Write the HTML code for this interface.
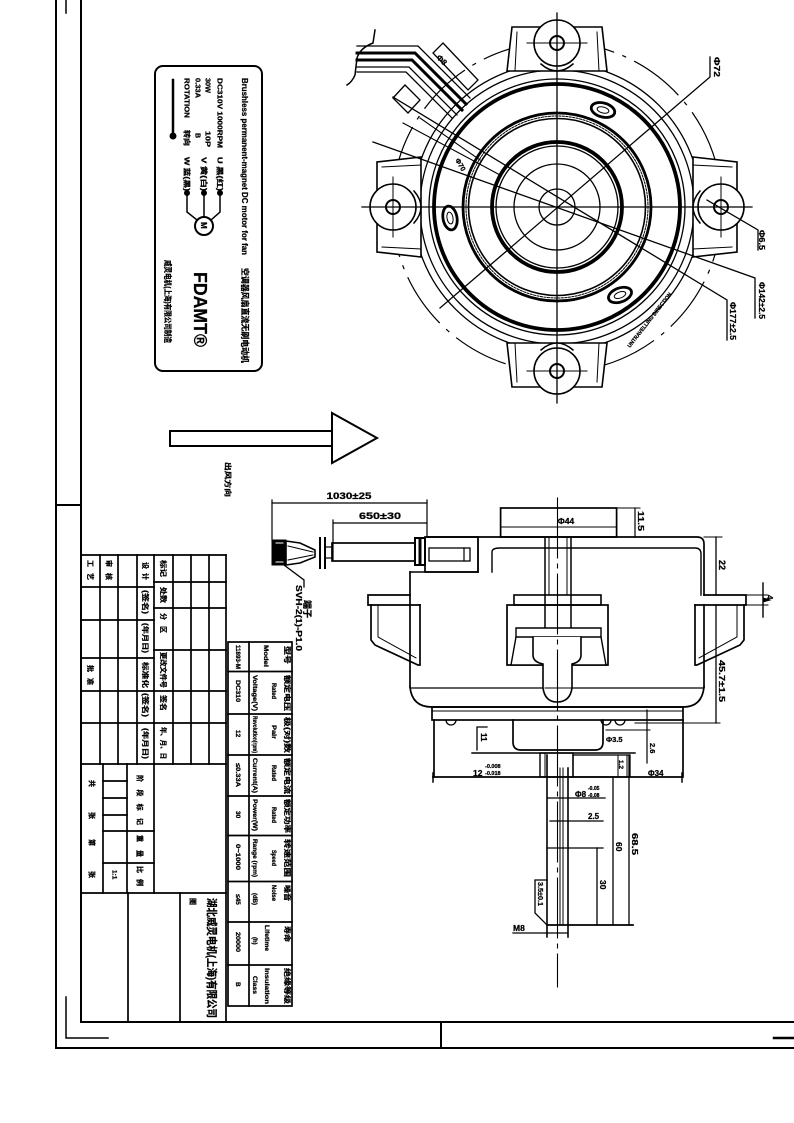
<!DOCTYPE html>
<html><head><meta charset="utf-8"><style>
html,body{margin:0;padding:0;background:#fff;}
svg{display:block;}
text{font-family:"Liberation Sans","Noto Sans CJK SC",sans-serif;font-weight:bold;fill:#000;stroke:#000;stroke-width:0.25;}
</style></head><body>
<svg width="794" height="1123" viewBox="0 0 794 1123" xmlns="http://www.w3.org/2000/svg">
<rect width="794" height="1123" fill="#fff" stroke="none"/>
<g stroke="#000" fill="none" stroke-linecap="square">
<!-- frame -->
<line x1="56" y1="0" x2="56" y2="1048" stroke-width="2"/>
<line x1="81" y1="0" x2="81" y2="1022" stroke-width="2"/>
<line x1="56" y1="505" x2="81" y2="505" stroke-width="2"/>
<line x1="66" y1="0" x2="66" y2="13" stroke-width="1.5"/>
<line x1="81" y1="1022" x2="794" y2="1022" stroke-width="2"/>
<line x1="56" y1="1048" x2="794" y2="1048" stroke-width="2"/>
<line x1="441" y1="1022" x2="441" y2="1048" stroke-width="2"/>
<line x1="774" y1="1038" x2="794" y2="1038" stroke-width="2.5"/>
<polyline points="66,997 66,1038 108,1038" stroke-width="1.5"/>

<!-- title block -->
<g stroke-width="1.7">
<line x1="81" y1="555" x2="226" y2="555"/>
<line x1="226" y1="555" x2="226" y2="1022"/>
<line x1="100" y1="555" x2="100" y2="764"/>
<line x1="118" y1="555" x2="118" y2="764"/>
<line x1="137" y1="555" x2="137" y2="764"/>
<line x1="154" y1="555" x2="154" y2="764"/>
<line x1="173" y1="555" x2="173" y2="764"/>
<line x1="191" y1="555" x2="191" y2="764"/>
<line x1="209" y1="555" x2="209" y2="764"/>
<line x1="81" y1="587" x2="154" y2="587"/>
<line x1="81" y1="620" x2="154" y2="620"/>
<line x1="81" y1="658" x2="154" y2="658"/>
<line x1="81" y1="691" x2="226" y2="691"/>
<line x1="81" y1="723" x2="154" y2="723"/>
<line x1="154" y1="582" x2="226" y2="582"/>
<line x1="154" y1="608" x2="226" y2="608"/>
<line x1="154" y1="650" x2="226" y2="650"/>
<line x1="154" y1="723" x2="226" y2="723"/>
<line x1="81" y1="764" x2="226" y2="764"/>
<line x1="103" y1="764" x2="103" y2="893"/>
<line x1="127" y1="764" x2="127" y2="893"/>
<line x1="154" y1="764" x2="154" y2="893"/>
<line x1="103" y1="781" x2="127" y2="781"/>
<line x1="103" y1="798" x2="127" y2="798"/>
<line x1="103" y1="815" x2="127" y2="815"/>
<line x1="103" y1="831" x2="154" y2="831"/>
<line x1="103" y1="863" x2="154" y2="863"/>
<line x1="81" y1="893" x2="226" y2="893"/>
<line x1="128" y1="893" x2="128" y2="1022"/>
<line x1="180" y1="893" x2="180" y2="1022"/>
</g>

<!-- spec table -->
<g stroke-width="1.7">
<rect x="228" y="642" width="64" height="364"/>
<line x1="249" y1="642" x2="249" y2="1006"/>
<line x1="228" y1="671.5" x2="292" y2="671.5"/>
<line x1="228" y1="714" x2="292" y2="714"/>
<line x1="228" y1="755" x2="292" y2="755"/>
<line x1="228" y1="796" x2="292" y2="796"/>
<line x1="228" y1="835.5" x2="292" y2="835.5"/>
<line x1="228" y1="881.5" x2="292" y2="881.5"/>
<line x1="228" y1="922" x2="292" y2="922"/>
<line x1="228" y1="965" x2="292" y2="965"/>
</g>

<!-- label box -->
<rect x="155" y="66" width="107" height="305" rx="8" stroke-width="2"/>
<line x1="173" y1="80" x2="173" y2="135" stroke-width="2.5"/>
<circle cx="173" cy="136" r="3" fill="#000"/>
<circle cx="187" cy="193" r="2.5" fill="#000"/>
<circle cx="204" cy="193" r="2.5" fill="#000"/>
<circle cx="220" cy="193" r="2.5" fill="#000"/>
<polyline points="187,193 187,212 197,220" stroke-width="1.5"/>
<line x1="204" y1="193" x2="204" y2="217" stroke-width="1.5"/>
<polyline points="220,193 220,212 211,220" stroke-width="1.5"/>
<circle cx="204" cy="226" r="9" stroke-width="2"/>

<!-- big arrow -->
<rect x="170" y="431" width="162" height="15" stroke-width="2"/>
<polygon points="332,413 377,438 332,463" stroke-width="2" fill="#fff"/>

<!-- ============ ROUND VIEW ============ -->
<circle cx="557" cy="207" r="165" stroke-width="1.2" stroke-dasharray="55 10 3 10"/>
<circle cx="557" cy="207" r="144" stroke-width="1.3"/>
<circle cx="557" cy="207" r="137" stroke-width="1.3"/>
<g>
<polygon points="507,71 512,27 602,27 607,71" fill="#fff" stroke-width="1.6"/>
<line x1="517" y1="32" x2="515" y2="71" stroke-width="1"/>
<line x1="597" y1="32" x2="599" y2="71" stroke-width="1"/>
<path d="M541,64 Q557,78 573,64" stroke-width="1.5" fill="#fff"/>
<circle cx="557" cy="43" r="23" fill="#fff" stroke-width="1.6"/>
<circle cx="557" cy="43" r="7" stroke-width="2"/>
<line x1="527" y1="43" x2="587" y2="43" stroke-width="1"/>
</g>
<g transform="rotate(90 557 207)">
<polygon points="507,71 512,27 602,27 607,71" fill="#fff" stroke-width="1.6"/>
<line x1="517" y1="32" x2="515" y2="71" stroke-width="1"/>
<line x1="597" y1="32" x2="599" y2="71" stroke-width="1"/>
<path d="M541,64 Q557,78 573,64" stroke-width="1.5" fill="#fff"/>
<circle cx="557" cy="43" r="23" fill="#fff" stroke-width="1.6"/>
<circle cx="557" cy="43" r="7" stroke-width="2"/>
<line x1="527" y1="43" x2="587" y2="43" stroke-width="1"/>
</g>
<g transform="rotate(180 557 207)">
<polygon points="507,71 512,27 602,27 607,71" fill="#fff" stroke-width="1.6"/>
<line x1="517" y1="32" x2="515" y2="71" stroke-width="1"/>
<line x1="597" y1="32" x2="599" y2="71" stroke-width="1"/>
<path d="M541,64 Q557,78 573,64" stroke-width="1.5" fill="#fff"/>
<circle cx="557" cy="43" r="23" fill="#fff" stroke-width="1.6"/>
<circle cx="557" cy="43" r="7" stroke-width="2"/>
<line x1="527" y1="43" x2="587" y2="43" stroke-width="1"/>
</g>
<g transform="rotate(270 557 207)">
<polygon points="507,71 512,27 602,27 607,71" fill="#fff" stroke-width="1.6"/>
<line x1="517" y1="32" x2="515" y2="71" stroke-width="1"/>
<line x1="597" y1="32" x2="599" y2="71" stroke-width="1"/>
<path d="M541,64 Q557,78 573,64" stroke-width="1.5" fill="#fff"/>
<circle cx="557" cy="43" r="23" fill="#fff" stroke-width="1.6"/>
<circle cx="557" cy="43" r="7" stroke-width="2"/>
<line x1="527" y1="43" x2="587" y2="43" stroke-width="1"/>
</g>
<circle cx="557" cy="207" r="128" stroke-width="1.3"/>
<circle cx="557" cy="207" r="123" stroke-width="3.8"/>
<circle cx="557" cy="207" r="94" stroke-width="2.8"/>
<circle cx="557" cy="207" r="91" stroke-width="1" stroke-dasharray="2 1.5"/>
<circle cx="557" cy="207" r="88.5" stroke-width="1.6"/>
<circle cx="557" cy="207" r="65" stroke-width="3.8"/>
<circle cx="557" cy="207" r="61" stroke-width="1.3"/>
<circle cx="557" cy="207" r="43" stroke-width="1.3"/>
<circle cx="557" cy="207" r="18" stroke-width="1.3"/>
<ellipse cx="603" cy="110" rx="12" ry="7" transform="rotate(15 603 110)" stroke-width="2.8"/>
<ellipse cx="603" cy="110" rx="6" ry="3" transform="rotate(15 603 110)" stroke-width="1"/>
<ellipse cx="450" cy="218" rx="12" ry="7" transform="rotate(80 450 218)" stroke-width="2.8"/>
<ellipse cx="450" cy="218" rx="6" ry="3" transform="rotate(80 450 218)" stroke-width="1"/>
<ellipse cx="620" cy="295" rx="12" ry="7" transform="rotate(-20 620 295)" stroke-width="2.8"/>
<ellipse cx="620" cy="295" rx="6" ry="3" transform="rotate(-20 620 295)" stroke-width="1"/>
<line x1="557" y1="13" x2="557" y2="403" stroke-width="1.3"/>
<line x1="362" y1="207" x2="752" y2="207" stroke-width="1.3"/>
<polyline points="440,308 710,77 710,57" stroke-width="1.3"/>
<polyline points="373,142 755,278 755,318" stroke-width="1.3"/>
<polyline points="393,97 727,300 727,340" stroke-width="1.3"/>
<polyline points="707,200 758,230 758,250" stroke-width="1.3"/>
<line x1="403" y1="123" x2="500" y2="175" stroke-width="1.1"/>
<line x1="420" y1="118" x2="480" y2="160" stroke-width="1.1"/>
<path d="M375,30 L373,43 Q360,48 357,58 L355,75 Q352,82 347,85" stroke-width="1.5"/>
<polyline points="357,46 418,46 470,98" stroke-width="1.3"/>
<polyline points="357,53 415,53 466,104" stroke-width="3"/>
<polyline points="357,60 412,60 462,110" stroke-width="3"/>
<polyline points="357,67 409,67 457,115" stroke-width="1.3"/>
<polyline points="357,72 406,72 452,118" stroke-width="1.3"/>
<polygon points="443,43 478,80 468,90 433,53" stroke-width="1.3"/>
<polygon points="393,98 405,85 420,100 408,113" stroke-width="1.3"/>

<!-- ============ SIDE VIEW ============ -->
<g stroke-width="1.2">
<line x1="272" y1="500" x2="272" y2="540"/>
<line x1="427" y1="500" x2="427" y2="537"/>
<line x1="272" y1="503" x2="427" y2="503"/>
<line x1="333" y1="520" x2="333" y2="560"/>
<line x1="333" y1="523" x2="427" y2="523"/>
</g>
<rect x="272" y="540" width="14" height="25" fill="#000" stroke-width="1"/>
<line x1="276" y1="543" x2="283" y2="543" stroke="#fff" stroke-width="1"/>
<line x1="276" y1="562" x2="283" y2="562" stroke="#fff" stroke-width="1"/>
<polygon points="286,541 300,543 315,550 315,557 300,563 286,565" stroke-width="1.6"/>
<line x1="288" y1="546" x2="313" y2="552" stroke-width="1"/>
<line x1="288" y1="560" x2="313" y2="555" stroke-width="1"/>
<line x1="320" y1="538" x2="320" y2="568" stroke-width="2"/>
<line x1="325" y1="538" x2="325" y2="568" stroke-width="2"/>
<rect x="325" y="547" width="7" height="11" stroke-width="1.2"/>
<rect x="332" y="543" width="83" height="18" stroke-width="1.7"/>
<rect x="415" y="538" width="10" height="27" stroke-width="2"/>
<line x1="420" y1="539" x2="420" y2="564" stroke-width="3"/>
<rect x="425" y="537" width="53" height="35" stroke-width="1.7"/>
<rect x="429" y="548" width="41" height="13" stroke-width="1.3"/>
<line x1="464" y1="548" x2="464" y2="561" stroke-width="1.2"/>
<polyline points="284,565 304,580 304,587" stroke-width="1.3"/>
<rect x="500.6" y="508" width="116" height="29" stroke-width="1.7"/>
<line x1="500.6" y1="527" x2="616.6" y2="527" stroke-width="1"/>
<line x1="617" y1="508" x2="640" y2="508" stroke-width="1"/>
<line x1="635" y1="508" x2="635" y2="537" stroke-width="1.2"/>
<path d="M427,537 L697,537 Q704,537 704,544 L704,595" stroke-width="1.7"/>
<path d="M492,572 L492,552 Q492,548 500,548 L695,548 Q701,548 701,554 L701,595" stroke-width="1.4"/>
<line x1="478" y1="540" x2="478" y2="572" stroke-width="1.4"/>
<line x1="410" y1="572" x2="478" y2="572" stroke-width="1.4"/>
<line x1="545" y1="538" x2="545" y2="627" stroke-width="1.5"/>
<line x1="571" y1="538" x2="571" y2="627" stroke-width="1.5"/>
<line x1="549" y1="538" x2="549" y2="595" stroke-width="1"/>
<line x1="567" y1="538" x2="567" y2="595" stroke-width="1"/>
<polyline points="410,595 368,595 368,605 420,605" stroke-width="1.7"/>
<polyline points="704,595 746,595 746,605 695,605" stroke-width="1.7"/>
<polyline points="371,605 371,640 375,645 418,665 420,665 420,605" stroke-width="1.7"/>
<polyline points="378,605 378,637 416,658" stroke-width="1"/>
<polyline points="744,605 744,640 740,645 697,665 695,665 695,605" stroke-width="1.7"/>
<polyline points="737,605 737,637 699,658" stroke-width="1"/>
<line x1="410" y1="572" x2="410" y2="687" stroke-width="1.7"/>
<line x1="704" y1="605" x2="704" y2="687" stroke-width="1.7"/>
<line x1="410" y1="688" x2="704" y2="688" stroke-width="1.3"/>
<path d="M410,687 Q412,707 432,707 L683,707 Q702,707 704,687" stroke-width="1.7"/>
<rect x="514" y="595" width="87" height="10" stroke-width="1.6"/>
<rect x="507" y="605" width="101" height="60" stroke-width="1.7"/>
<polygon points="516,628 601,628 601,637 606,665 511,665 516,637" stroke-width="1.4" fill="#fff"/>
<line x1="516" y1="637" x2="601" y2="637" stroke-width="1.4"/>
<path d="M533,637 L533,655 Q533,662 543,664 L543,688 Q545,702 557,702 Q570,702 572,688 L572,664 Q581,662 581,655 L581,637" stroke-width="1.6" fill="#fff"/>
<line x1="545" y1="688" x2="571" y2="688" stroke-width="1"/>
<rect x="432" y="707" width="251" height="13" stroke-width="1.7"/>
<line x1="432" y1="711" x2="683" y2="711" stroke-width="1"/>
<line x1="434" y1="720" x2="434" y2="777" stroke-width="1.7"/>
<line x1="683" y1="720" x2="683" y2="777" stroke-width="1.7"/>
<path d="M446,720 A5,5 0 0 0 456,720" stroke-width="1.3"/>
<path d="M601,720 A5,5 0 0 0 611,720" stroke-width="1.3"/>
<path d="M615,720 A5,5 0 0 0 625,720" stroke-width="1.3"/>
<path d="M513,720 L513,742 Q513,750 521,750 L595,750 Q603,750 603,742 L603,720" stroke-width="1.7"/>
<line x1="472" y1="753" x2="635" y2="753" stroke-width="1.4"/>
<polyline points="487,727 477,727 477,750" stroke-width="1.3"/>
<line x1="606" y1="730" x2="650" y2="730" stroke-width="1"/>
<line x1="647" y1="710" x2="647" y2="763" stroke-width="1.2"/>
<rect x="540" y="753" width="33" height="24" stroke-width="1.4"/>
<line x1="545" y1="753" x2="545" y2="777" stroke-width="1"/>
<rect x="573" y="755" width="57" height="22" stroke-width="1.3"/>
<line x1="618" y1="755" x2="618" y2="777" stroke-width="1"/>
<line x1="627" y1="755" x2="627" y2="777" stroke-width="1"/>
<line x1="433" y1="777" x2="682" y2="777" stroke-width="1.8"/>
<line x1="433" y1="773" x2="433" y2="782" stroke-width="1.5"/>
<line x1="682" y1="773" x2="682" y2="782" stroke-width="1.5"/>
<line x1="547" y1="755" x2="547" y2="937" stroke-width="1.6"/>
<line x1="568" y1="768" x2="568" y2="937" stroke-width="1.6"/>
<line x1="560" y1="768" x2="560" y2="925" stroke-width="1"/>
<line x1="563" y1="768" x2="563" y2="925" stroke-width="1"/>
<line x1="557.5" y1="498" x2="557.5" y2="987" stroke-width="1.1" stroke-dasharray="60 6 4 6"/>
<line x1="548" y1="798" x2="605" y2="798" stroke-width="1.3"/>
<line x1="550" y1="821" x2="603" y2="821" stroke-width="1.3"/>
<line x1="547" y1="848" x2="603" y2="848" stroke-width="1.3"/>
<line x1="547" y1="925" x2="633" y2="925" stroke-width="1.7"/>
<line x1="597" y1="848" x2="597" y2="925" stroke-width="1.3"/>
<line x1="613" y1="777" x2="613" y2="925" stroke-width="1.3"/>
<line x1="629" y1="755" x2="629" y2="925" stroke-width="1.3"/>
<polyline points="547,880 535,880 535,913 547,925" stroke-width="1.3"/>
<line x1="513" y1="933" x2="567" y2="933" stroke-width="1.3"/>
<line x1="704" y1="537" x2="722" y2="537" stroke-width="1"/>
<line x1="716" y1="537" x2="716" y2="595" stroke-width="1.3"/>
<line x1="716" y1="605" x2="716" y2="723" stroke-width="1.3"/>
<line x1="635" y1="723" x2="720" y2="723" stroke-width="1"/>
<line x1="746" y1="595" x2="768" y2="595" stroke-width="1"/>
<line x1="746" y1="605" x2="768" y2="605" stroke-width="1"/>
<line x1="763" y1="583" x2="763" y2="617" stroke-width="1.4"/>
<polygon points="763,598 770,600 763,602" fill="#000" stroke-width="1"/>
</g>

<!-- ============ TEXT ============ -->
<text transform="translate(242,78) rotate(90)" font-size="8.5" textLength="177" lengthAdjust="spacingAndGlyphs">Brushless permanent-magnet DC motor for fan</text>
<text transform="translate(242,268) rotate(90)" font-size="8.5" textLength="95" lengthAdjust="spacingAndGlyphs">空调器风扇直流无刷电动机</text>
<text transform="translate(217.5,78) rotate(90)" font-size="7" textLength="70" lengthAdjust="spacingAndGlyphs">DC310V 1000RPM</text>
<text transform="translate(217.5,157) rotate(90)" font-size="7" textLength="34" lengthAdjust="spacingAndGlyphs">U 黑(红)</text>
<text transform="translate(205.5,78) rotate(90)" font-size="7" textLength="15" lengthAdjust="spacingAndGlyphs">30W</text>
<text transform="translate(205.5,131) rotate(90)" font-size="7" textLength="16" lengthAdjust="spacingAndGlyphs">10P</text>
<text transform="translate(201.5,157) rotate(90)" font-size="7" textLength="34" lengthAdjust="spacingAndGlyphs">V 黄(白)</text>
<text transform="translate(195.5,78) rotate(90)" font-size="7" textLength="20" lengthAdjust="spacingAndGlyphs">0.33A</text>
<text transform="translate(195.5,133) rotate(90)" font-size="7">B</text>
<text transform="translate(184.5,78) rotate(90)" font-size="7" textLength="40" lengthAdjust="spacingAndGlyphs">ROTATION</text>
<text transform="translate(184.5,130) rotate(90)" font-size="7" textLength="16" lengthAdjust="spacingAndGlyphs">转向</text>
<text transform="translate(184.5,157) rotate(90)" font-size="7" textLength="34" lengthAdjust="spacingAndGlyphs">W 蓝(黑)</text>
<text transform="translate(201,222) rotate(90)" font-size="8">M</text>
<text transform="translate(194,272) rotate(90)" font-size="18" textLength="75" lengthAdjust="spacingAndGlyphs">FDAMT®</text>
<text transform="translate(165,260) rotate(90)" font-size="8" textLength="83" lengthAdjust="spacingAndGlyphs">威灵电机(上海)有限公司制造</text>
<text transform="translate(225.5,462) rotate(90)" font-size="7" textLength="35" lengthAdjust="spacingAndGlyphs">出风方向</text>

<text transform="translate(714,57) rotate(90)" font-size="8" textLength="20" lengthAdjust="spacingAndGlyphs">Φ72</text>
<text transform="translate(759,230) rotate(90)" font-size="8" textLength="20" lengthAdjust="spacingAndGlyphs">Φ6.5</text>
<text transform="translate(759,282) rotate(90)" font-size="8" textLength="37" lengthAdjust="spacingAndGlyphs">Φ142±2.5</text>
<text transform="translate(730,302) rotate(90)" font-size="8" textLength="38" lengthAdjust="spacingAndGlyphs">Φ177±2.5</text>
<text transform="translate(436,58) rotate(45)" font-size="8">Φ8</text>
<text transform="translate(455,160) rotate(60)" font-size="7">Φ70</text>
<text transform="translate(630,348) rotate(-52)" font-size="5.5" textLength="68" lengthAdjust="spacingAndGlyphs">UNTRAVELLING DIRECTION</text>

<text x="349" y="499" font-size="9" text-anchor="middle" textLength="45" lengthAdjust="spacingAndGlyphs">1030±25</text>
<text x="380" y="519" font-size="9" text-anchor="middle" textLength="42" lengthAdjust="spacingAndGlyphs">650±30</text>
<text x="566" y="524" font-size="8.5" text-anchor="middle">Φ44</text>
<text transform="translate(638,511) rotate(90)" font-size="8.5" textLength="20" lengthAdjust="spacingAndGlyphs">11.5</text>
<text transform="translate(719,560) rotate(90)" font-size="9">22</text>
<text transform="translate(719,660) rotate(90)" font-size="8.5" textLength="42" lengthAdjust="spacingAndGlyphs">45.7±1.5</text>
<text transform="translate(767,595) rotate(90)" font-size="8">4</text>
<text transform="translate(296,585) rotate(90)" font-size="8" textLength="66" lengthAdjust="spacingAndGlyphs">SVH-2(1)-P1.0</text>
<text transform="translate(304,600) rotate(90)" font-size="9" textLength="18" lengthAdjust="spacingAndGlyphs">端子</text>
<text transform="translate(481,733) rotate(90)" font-size="8">11</text>
<text x="606" y="742" font-size="7.5">Φ3.5</text>
<text transform="translate(650,743) rotate(90)" font-size="7.5">2.6</text>
<text transform="translate(619,760) rotate(90)" font-size="6.5">1.2</text>
<text x="473" y="776" font-size="8.5">12</text>
<text x="485" y="768" font-size="5.5">-0.008</text>
<text x="485" y="775" font-size="5.5">-0.018</text>
<text x="648" y="776" font-size="8">Φ34</text>
<text x="575" y="797" font-size="8">Φ8</text>
<text x="588" y="790" font-size="5">-0.05</text>
<text x="588" y="797" font-size="5">-0.08</text>
<text x="588" y="819" font-size="8">2.5</text>
<text transform="translate(600,880) rotate(90)" font-size="8.5">30</text>
<text transform="translate(616,842) rotate(90)" font-size="8.5">60</text>
<text transform="translate(632,833) rotate(90)" font-size="8.5" textLength="22" lengthAdjust="spacingAndGlyphs">68.5</text>
<text transform="translate(538,882) rotate(90)" font-size="7" textLength="24" lengthAdjust="spacingAndGlyphs">3.5±0.1</text>
<text x="513" y="931" font-size="8.5">M8</text>

<g font-size="7">
<text transform="translate(285,646) rotate(90)" textLength="18" lengthAdjust="spacingAndGlyphs">型号</text>
<text transform="translate(264,645) rotate(90)" font-size="6" textLength="22" lengthAdjust="spacingAndGlyphs">Model</text>
<text transform="translate(236,645) rotate(90)" font-size="6.5" textLength="24" lengthAdjust="spacingAndGlyphs">11893-M</text>
<text transform="translate(285,675) rotate(90)" textLength="36" lengthAdjust="spacingAndGlyphs">额定电压</text>
<text transform="translate(272,683) rotate(90)" font-size="6" textLength="16" lengthAdjust="spacingAndGlyphs">Rated</text>
<text transform="translate(253,675) rotate(90)" font-size="6" textLength="36" lengthAdjust="spacingAndGlyphs">Voltage(V)</text>
<text transform="translate(236,680) rotate(90)" font-size="6.5" textLength="22" lengthAdjust="spacingAndGlyphs">DC310</text>
<text transform="translate(285,717) rotate(90)" textLength="36" lengthAdjust="spacingAndGlyphs">极(对)数</text>
<text transform="translate(272,725) rotate(90)" font-size="6" textLength="14" lengthAdjust="spacingAndGlyphs">Pair</text>
<text transform="translate(253,716) rotate(90)" font-size="6" textLength="37" lengthAdjust="spacingAndGlyphs">Revolution(rpm)</text>
<text transform="translate(236,730) rotate(90)" font-size="6.5">12</text>
<text transform="translate(285,758) rotate(90)" textLength="36" lengthAdjust="spacingAndGlyphs">额定电流</text>
<text transform="translate(272,765) rotate(90)" font-size="6" textLength="16" lengthAdjust="spacingAndGlyphs">Rated</text>
<text transform="translate(253,758) rotate(90)" font-size="6" textLength="35" lengthAdjust="spacingAndGlyphs">Current(A)</text>
<text transform="translate(236,763) rotate(90)" font-size="6.5" textLength="24" lengthAdjust="spacingAndGlyphs">≤0.33A</text>
<text transform="translate(285,799) rotate(90)" textLength="34" lengthAdjust="spacingAndGlyphs">额定功率</text>
<text transform="translate(272,807) rotate(90)" font-size="6" textLength="16" lengthAdjust="spacingAndGlyphs">Rated</text>
<text transform="translate(253,799) rotate(90)" font-size="6" textLength="32" lengthAdjust="spacingAndGlyphs">Power(W)</text>
<text transform="translate(236,811) rotate(90)" font-size="6.5">30</text>
<text transform="translate(285,839) rotate(90)" textLength="38" lengthAdjust="spacingAndGlyphs">转速范围</text>
<text transform="translate(272,850) rotate(90)" font-size="6" textLength="16" lengthAdjust="spacingAndGlyphs">Speed</text>
<text transform="translate(253,839) rotate(90)" font-size="6" textLength="38" lengthAdjust="spacingAndGlyphs">Range (rpm)</text>
<text transform="translate(236,844) rotate(90)" font-size="6.5" textLength="26" lengthAdjust="spacingAndGlyphs">0~1000</text>
<text transform="translate(285,885) rotate(90)" textLength="16" lengthAdjust="spacingAndGlyphs">噪音</text>
<text transform="translate(272,885) rotate(90)" font-size="6" textLength="16" lengthAdjust="spacingAndGlyphs">Noise</text>
<text transform="translate(253,893) rotate(90)" font-size="6">(dB)</text>
<text transform="translate(236,894) rotate(90)" font-size="6.5">≤45</text>
<text transform="translate(285,926) rotate(90)" textLength="16" lengthAdjust="spacingAndGlyphs">寿命</text>
<text transform="translate(265,925) rotate(90)" font-size="6" textLength="26" lengthAdjust="spacingAndGlyphs">Lifetime</text>
<text transform="translate(253,937) rotate(90)" font-size="6">(h)</text>
<text transform="translate(236,932) rotate(90)" font-size="6.5" textLength="20" lengthAdjust="spacingAndGlyphs">20000</text>
<text transform="translate(285,968) rotate(90)" textLength="36" lengthAdjust="spacingAndGlyphs">绝缘等级</text>
<text transform="translate(265,968) rotate(90)" font-size="6" textLength="36" lengthAdjust="spacingAndGlyphs">Insulation</text>
<text transform="translate(253,976) rotate(90)" font-size="6" textLength="18" lengthAdjust="spacingAndGlyphs">Class</text>
<text transform="translate(236,982) rotate(90)" font-size="6.5">B</text>
</g>

<g font-size="7">
<text transform="translate(88,560) rotate(90)" textLength="20" lengthAdjust="spacing">工 艺</text>
<text transform="translate(106.5,560) rotate(90)" textLength="20" lengthAdjust="spacing">审 核</text>
<text transform="translate(143,562) rotate(90)" textLength="18" lengthAdjust="spacing">设 计</text>
<text transform="translate(161,560) rotate(90)" textLength="17" lengthAdjust="spacingAndGlyphs">标记</text>
<text transform="translate(143,590) rotate(90)" textLength="24" lengthAdjust="spacingAndGlyphs">(签名)</text>
<text transform="translate(161,587) rotate(90)" textLength="16" lengthAdjust="spacingAndGlyphs">处数</text>
<text transform="translate(143,623) rotate(90)" textLength="30" lengthAdjust="spacingAndGlyphs">(年月日)</text>
<text transform="translate(161,613) rotate(90)" textLength="20" lengthAdjust="spacing">分 区</text>
<text transform="translate(88,665) rotate(90)" textLength="20" lengthAdjust="spacing">批 准</text>
<text transform="translate(143,662) rotate(90)" textLength="26" lengthAdjust="spacingAndGlyphs">标准化</text>
<text transform="translate(161,652) rotate(90)" textLength="36" lengthAdjust="spacingAndGlyphs">更改文件号</text>
<text transform="translate(143,693) rotate(90)" textLength="24" lengthAdjust="spacingAndGlyphs">(签名)</text>
<text transform="translate(161,695) rotate(90)" textLength="16" lengthAdjust="spacingAndGlyphs">签名</text>
<text transform="translate(143,728) rotate(90)" textLength="31" lengthAdjust="spacingAndGlyphs">(年月日)</text>
<text transform="translate(161,727) rotate(90)" textLength="32" lengthAdjust="spacingAndGlyphs">年、月、日</text>
<text transform="translate(89.5,780) rotate(90)">共</text>
<text transform="translate(89.5,812) rotate(90)">张</text>
<text transform="translate(89.5,839) rotate(90)">第</text>
<text transform="translate(89.5,871) rotate(90)">张</text>
<text transform="translate(112.5,870) rotate(90)" font-size="6.5">1:1</text>
<text transform="translate(137.5,775) rotate(90)" textLength="50" lengthAdjust="spacing">阶段标记</text>
<text transform="translate(137.5,835) rotate(90)" textLength="22" lengthAdjust="spacing">重量</text>
<text transform="translate(137.5,866) rotate(90)" textLength="20" lengthAdjust="spacing">比例</text>
<text transform="translate(190.5,898) rotate(90)" font-size="7">图</text>
<text transform="translate(208,898) rotate(90)" font-size="11" textLength="120" lengthAdjust="spacingAndGlyphs">湖北威灵电机(上海)有限公司</text>
</g>
</svg>
</body></html>
